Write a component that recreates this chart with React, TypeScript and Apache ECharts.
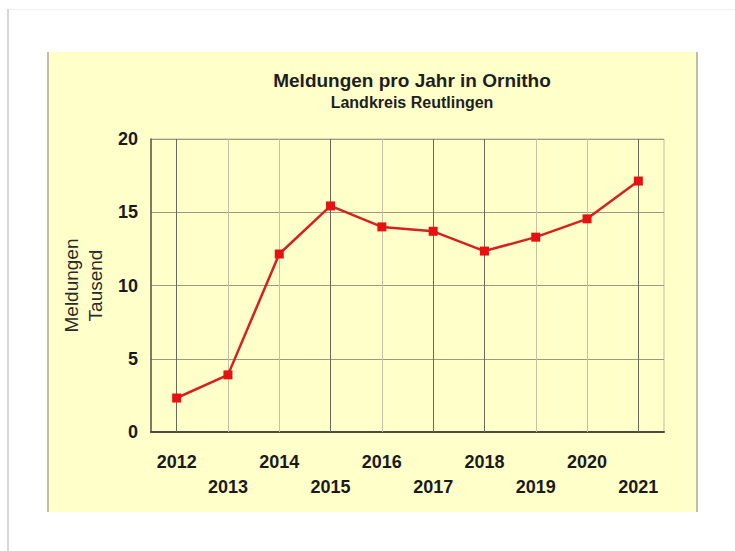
import React, { useEffect, useRef } from "react";
import * as echarts from "echarts";

const years = ["2012", "2013", "2014", "2015", "2016", "2017", "2018", "2019", "2020", "2021"];
const meldungen = [2.32, 3.9, 12.15, 15.43, 14.0, 13.7, 12.35, 13.3, 14.55, 17.13];
const yTicks = { min: 0, max: 20, interval: 5 };
const titleText = "Meldungen pro Jahr in Ornitho";
const subtitleText = "Landkreis Reutlingen";
const yName = "Meldungen\nTausend";
const darkLines = ["2012", "2015", "2017", "2018", "2021"];

const FONT = "'Liberation Sans', Arial, sans-serif";

export default function App() {
  const ref = useRef<HTMLDivElement>(null);
  useEffect(() => {
    if (!ref.current) return;
    const chart = echarts.init(ref.current, null, { renderer: "svg" });
    chart.setOption({
      animation: false,
      backgroundColor: "#ffffff",
      textStyle: { fontFamily: FONT },
      graphic: [
        { type: "line", z: -10, shape: { x1: 8, y1: 9, x2: 8, y2: 551 }, style: { stroke: "#d6d6d6", lineWidth: 2 } },
        { type: "line", z: -10, shape: { x1: 9, y1: 9.5, x2: 735, y2: 9.5 }, style: { stroke: "#efefef", lineWidth: 1 } },
        { type: "rect", z: -10, shape: { x: 48, y: 52, width: 649, height: 460 }, style: { fill: "#ffffc9" } },
        { type: "line", z: -9, shape: { x1: 48, y1: 52, x2: 48, y2: 512 }, style: { stroke: "#a9a996", lineWidth: 1.5 } },
        { type: "line", z: -9, shape: { x1: 697, y1: 52, x2: 697, y2: 512 }, style: { stroke: "#a9a996", lineWidth: 1.5 } },
      ],
      title: {
        text: titleText,
        subtext: subtitleText,
        left: 407,
        top: 66,
        textAlign: "center",
        itemGap: 4,
        textStyle: { fontFamily: FONT, fontSize: 19, fontWeight: "bold", color: "#1e1e1e" },
        subtextStyle: { fontFamily: FONT, fontSize: 16, fontWeight: "bold", color: "#1e1e1e" },
      },
      grid: {
        left: 151,
        top: 139,
        width: 513,
        height: 293,
        show: true,
        borderColor: "#bdbda0",
        borderWidth: 1,
        backgroundColor: "transparent",
      },
      xAxis: {
        type: "category",
        data: years,
        boundaryGap: true,
        axisLine: { show: true, lineStyle: { color: "#4a4a40", width: 2 } },
        axisTick: { show: false },
        splitLine: { show: false },
        axisLabel: {
          interval: 0,
          margin: 17,
          fontFamily: FONT,
          fontSize: 18,
          fontWeight: "bold",
          color: "#1a1a1a",
          lineHeight: 25,
          formatter: (v: string, i: number) => (i % 2 === 1 ? "\n" + v : v),
        },
      },
      yAxis: {
        type: "value",
        min: yTicks.min,
        max: yTicks.max,
        interval: yTicks.interval,
        name: yName,
        nameLocation: "middle",
        nameRotate: 90,
        nameGap: 42,
        nameTextStyle: { fontFamily: FONT, fontSize: 19, color: "#2a2a2a", lineHeight: 24 },
        axisLine: { show: true, lineStyle: { color: "#5a5a4c", width: 1.5 } },
        axisTick: { show: false },
        splitLine: { show: true, lineStyle: { color: "#9a9a80", width: 1 } },
        axisLabel: {
          margin: 13,
          fontFamily: FONT,
          fontSize: 18,
          fontWeight: "bold",
          color: "#1a1a1a",
        },
      },
      series: [
        {
          type: "line",
          data: meldungen,
          symbol: "rect",
          symbolSize: 9,
          lineStyle: { color: "#d42222", width: 2.5 },
          itemStyle: { color: "#e61212" },
          z: 5,
          markLine: {
            silent: true,
            symbol: "none",
            label: { show: false },
            z: 1,
            data: years.map((y) => ({
              xAxis: y,
              lineStyle: {
                type: "solid",
                width: 1,
                color: darkLines.includes(y) ? "#6a6a5a" : "#c2c2a4",
              },
            })),
          },
        },
      ],
    });
    return () => chart.dispose();
  }, []);
  return (
    <div
      ref={ref}
      style={{ position: "fixed", left: 0, top: 0, width: 735, height: 551 }}
    />
  );
}
